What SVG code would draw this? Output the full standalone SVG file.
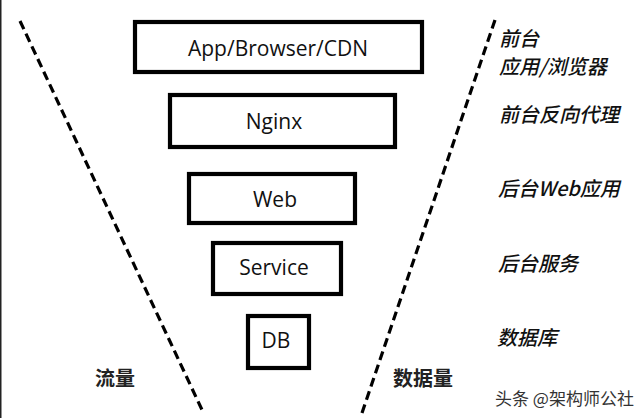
<svg xmlns="http://www.w3.org/2000/svg" width="640" height="418" viewBox="0 0 640 418">
<style>
.box{fill:#fff;stroke:#000;stroke-width:4.2}
.lbl{font-family:"Open Sans","Noto Sans",sans-serif;font-size:21px;fill:#111;text-anchor:middle}
.side{font-family:"Noto Sans CJK SC",sans-serif;font-size:20px;font-style:italic;font-weight:500;fill:#111}
.axis{font-family:"Noto Sans CJK SC",sans-serif;font-size:20px;font-weight:bold;fill:#222}
.dash{stroke:#000;stroke-width:3.2;stroke-dasharray:9 5;fill:none}
</style>
<rect x="0" y="0" width="640" height="418" fill="#fff"/>
<rect x="0" y="0" width="1.5" height="418" fill="#222"/>
<g id="connectors">
<line class="dash" x1="20" y1="21" x2="203" y2="412"/>
<line class="dash" x1="495" y1="20" x2="362" y2="413"/>
</g>
<g id="app"><rect class="box" x="135" y="22" width="287" height="50"/><text class="lbl" x="278" y="56">App/Browser/CDN</text></g>
<g id="nginx"><rect class="box" x="170" y="95" width="225" height="52"/><text class="lbl" x="274" y="129">Nginx</text></g>
<g id="web"><rect class="box" x="189" y="174" width="166" height="49"/><text class="lbl" x="275" y="207">Web</text></g>
<g id="service"><rect class="box" x="213" y="243" width="128" height="51"/><text class="lbl" x="274" y="275">Service</text></g>
<g id="db"><rect class="box" x="248" y="316" width="61" height="52"/><text class="lbl" x="276" y="348">DB</text></g>
<g id="labels">
<text class="side" x="499" y="46" font-size="19">前台</text>
<text class="side" x="499" y="74" font-size="19">应用/浏览器</text>
<text class="side" x="499" y="122">前台反向代理</text>
<text class="side" x="498" y="196">后台Web应用</text>
<text class="side" x="498" y="271">后台服务</text>
<text class="side" x="497" y="345">数据库</text>
<text class="axis" x="95" y="386">流量</text>
<text class="axis" x="393" y="386">数据量</text>
<text x="495" y="405" font-family="Noto Sans CJK SC,sans-serif" font-size="17" fill="#333">头条 @架构师公社</text>
</g>
</svg>
